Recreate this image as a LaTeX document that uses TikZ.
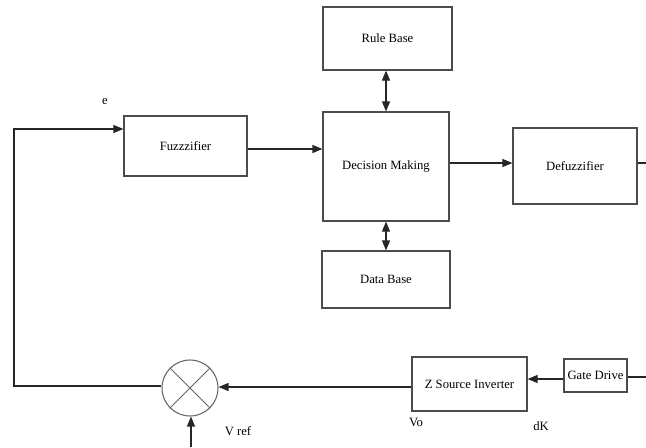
\documentclass[tikz,border=0pt]{standalone}
\usepackage{fontspec}
\setmainfont{Liberation Serif}
\usetikzlibrary{arrows.meta,calc}
\begin{document}
\begin{tikzpicture}[x=0.75pt,y=-0.75pt,
  blk/.style={draw=black!70,line width=0.9pt,rectangle,inner sep=0pt,font=\fontsize{9.5}{11}\selectfont},
  wire/.style={line width=0.9pt,draw=black!85},
  arr/.style={wire,-{Triangle[length=7.5pt,width=6pt]}},
  darr/.style={wire,{Triangle[length=7.5pt,width=6pt]}-{Triangle[length=7.5pt,width=6pt]}},
  lbl/.style={font=\fontsize{9.5}{11}\selectfont,inner sep=0pt}]
\useasboundingbox[fill=white] (0,0) rectangle (646,447);

% fuzzy controller blocks
\node[blk,minimum width=129*0.75pt,minimum height=63*0.75pt] (rb) at (387.5,38.5) {Rule Base};
\node[blk,minimum width=126*0.75pt,minimum height=109*0.75pt] (dm) at (386,166.5) {Decision Making};
\node[blk,minimum width=128*0.75pt,minimum height=57*0.75pt] (db) at (386,279.5) {Data Base};
\node[blk,minimum width=123*0.75pt,minimum height=60*0.75pt] (fz) at (185.5,146) {Fuzzzifier};
\node[blk,minimum width=124*0.75pt,minimum height=76*0.75pt] (df) at (575,166) {Defuzzifier};

% plant side
\node[blk,minimum width=115*0.75pt,minimum height=54*0.75pt] (zs) at (469.5,384) {Z Source Inverter};
\node[blk,minimum width=63*0.75pt,minimum height=33*0.75pt] (gd) at (595.5,375.5) {Gate Drive};
\node[draw=black!60,line width=0.8pt,circle,minimum size=56*0.75pt,inner sep=0pt] (sum) at (190,388) {};
\draw[draw=black!60,line width=0.7pt] (sum.north west) -- (sum.south east) (sum.north east) -- (sum.south west);

% free ends
\coordinate (tl) at (14,129);
\coordinate (bl) at (14,386);
\coordinate (dfout) at (646,163);
\coordinate (gdin) at (646,377);
\coordinate (vref) at (191,447);

% connectors
\draw[darr] (rb.south -| dm.north) -- (dm.north);
\draw[darr] (dm.south) -- (db.north);
\draw[arr] ($(fz.east)+(0,3)$) -- ($(fz.east -| dm.west)+(0,3)$);
\draw[arr] ($(dm.east)+(0,-3.5)$) -- ($(dm.east -| df.west)+(0,-3.5)$);
\draw[wire] ($(df.east)+(0,-3)$) -- (dfout);
\draw[arr] (bl -| sum.west) -- (bl) -- (tl) -- (tl -| fz.west);
\draw[arr] ($(zs.west)+(0,3)$) -- ($(zs.west -| sum.east)+(0,3)$);
\draw[arr] ($(gd.west)+(0,3.5)$) -- ($(gd.west -| zs.east)+(0,3.5)$);
\draw[wire] ($(gd.east)+(0,1.5)$) -- (gdin);
\draw[arr] (vref) -- (vref |- sum.south);

% labels
\node[lbl] (le) at (105,102) {e};
\node[lbl] (lv) at (238,431) {V ref};
\node[lbl] (lvo) at (416,422) {Vo};
\node[lbl] (ldk) at (541,426) {dK};
\end{tikzpicture}
\end{document}
